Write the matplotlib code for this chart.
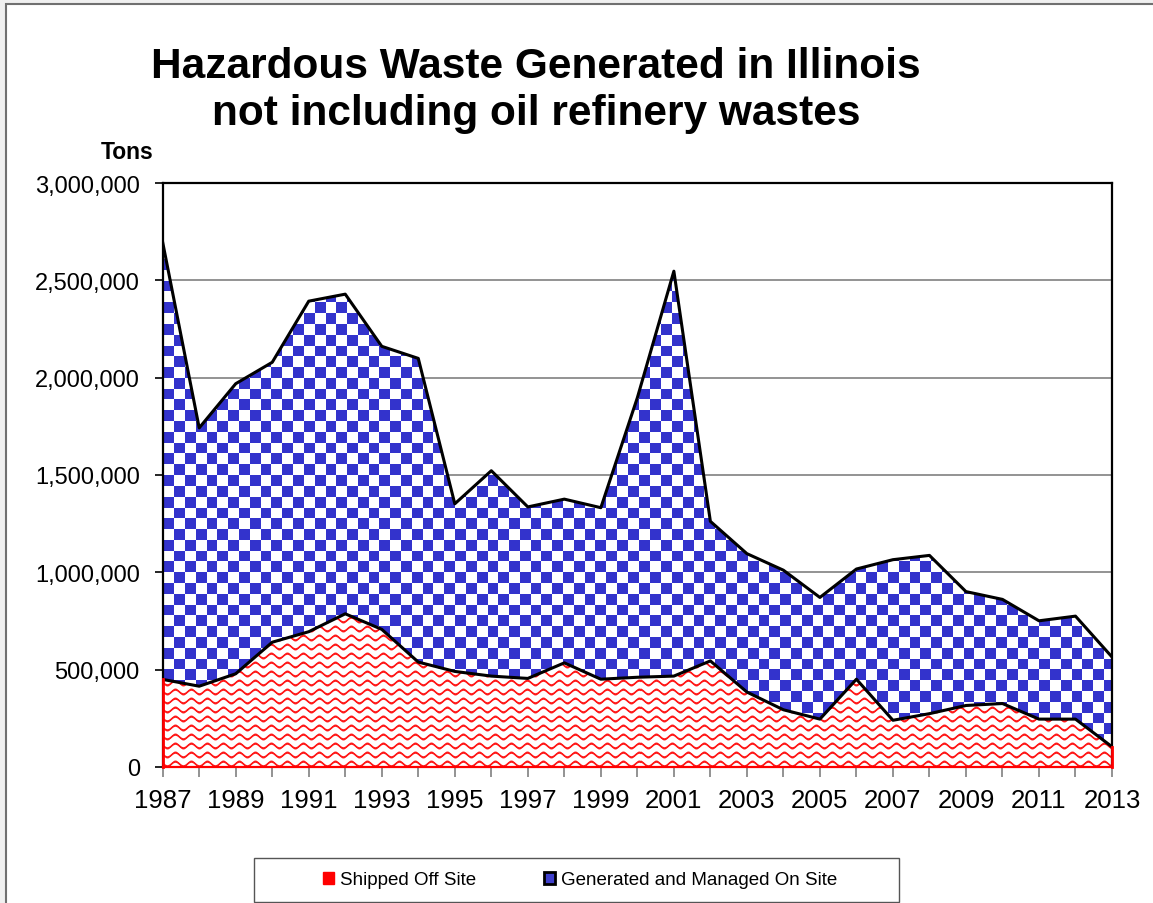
import numpy as np
import matplotlib
matplotlib.use('Agg')
import matplotlib.pyplot as plt
from matplotlib.patches import Rectangle, Patch
from matplotlib.ticker import FuncFormatter

# ---------------- data ----------------
years = list(range(1987, 2014))
shipped_off_site = [450000, 415000, 479000, 641000, 695000, 787000, 707000, 539000,
                    491000, 467000, 455000, 535000, 451000, 461000, 467000, 545000,
                    385000, 294000, 246000, 451000, 240000, 274000, 316000, 326000,
                    246000, 246000, 104000]
managed_on_site = [2245000, 1327000, 1490000, 1438000, 1698000, 1642000, 1454000, 1560000,
                   861000, 1055000, 881000, 841000, 881000, 1436000, 2080000, 717000,
                   711000, 717000, 625000, 566000, 825000, 813000, 585000, 535000,
                   505000, 529000, 461000]
series_labels = ['Shipped Off Site', 'Generated and Managed On Site']
title_lines = ['Hazardous Waste Generated in Illinois', 'not including oil refinery wastes']
y_label = 'Tons'
y_ticks = [0, 500000, 1000000, 1500000, 2000000, 2500000, 3000000]

plt.rcParams['font.family'] = ['Liberation Sans', 'DejaVu Sans']

FW, FH = 1153, 904
fig = plt.figure(figsize=(FW / 100, FH / 100), dpi=100, facecolor='#f0f0f0')

# white page with thin border (cropped at right/bottom)
fig.add_artist(Rectangle((6 / FW, -0.02), 1.05, (1 - 5 / FH) + 0.02, transform=fig.transFigure,
                         facecolor='white', edgecolor='#707070', lw=1.5, zorder=-10))

ax_rect = [162.7 / FW, (FH - 768) / FH, (1112 - 162.7) / FW, (768 - 184) / FH]
ax = fig.add_axes(ax_rect)
ax.set_facecolor('white')

x = np.array(years, dtype=float)
s = np.array(shipped_off_site, dtype=float)
t = s + np.array(managed_on_site, dtype=float)

xmin, xmax = years[0], years[-1]
ymin, ymax = y_ticks[0], y_ticks[-1]

# ---------------- textures (pixel-space patterns) ----------------
W = int(round(ax_rect[2] * FW))
H = int(round(ax_rect[3] * FH))
yy, xx = np.mgrid[0:H, 0:W].astype(float)

sq = 10.8
chk = ((np.floor(xx / sq) + np.floor(yy / sq)) % 2).astype(bool)
checker = np.ones((H, W, 3))
checker[chk] = np.array([51, 51, 204]) / 255.0

P, R, A = 16.0, 9.0, 2.3
v = (yy - A * np.sin(2 * np.pi * xx / P)) % R
d = np.abs(v - R / 2)
inten = np.clip((1.7 - d) / 1.1, 0, 1)[..., None]
red = np.array([255, 25, 25]) / 255.0
wave = (1 - inten) * np.ones(3) + inten * red

fill_red = ax.fill_between(x, 0, s, facecolor='none', edgecolor='none')
fill_blue = ax.fill_between(x, s, t, facecolor='none', edgecolor='none')

im_r = ax.imshow(wave, extent=(xmin, xmax, ymin, ymax), aspect='auto',
                 interpolation='nearest', zorder=1)
im_r.set_clip_path(fill_red.get_paths()[0], ax.transData)
im_b = ax.imshow(checker, extent=(xmin, xmax, ymin, ymax), aspect='auto',
                 interpolation='nearest', zorder=1)
im_b.set_clip_path(fill_blue.get_paths()[0], ax.transData)

ax.set_xlim(xmin, xmax)
ax.set_ylim(ymin, ymax)

# boundary lines
ax.plot(x, s, color='black', lw=2.2, zorder=4)
ax.plot(x, t, color='black', lw=2.2, zorder=4)
ax.plot([xmin, xmin], [0, s[0]], color='red', lw=2, zorder=6, clip_on=False)
ax.plot([xmax, xmax], [0, s[-1]], color='red', lw=2, zorder=6, clip_on=False)

# grid / spines
ax.yaxis.grid(True, color='#808080', lw=1.2)
ax.set_axisbelow(True)
for sp in ax.spines.values():
    sp.set_linewidth(1.6)
    sp.set_color('black')
ax.spines['bottom'].set_color('red')

# ticks
ax.set_xticks(years)
ax.set_xticklabels([str(y) if (y - years[0]) % 2 == 0 else '' for y in years])
ax.set_yticks(y_ticks)
ax.yaxis.set_major_formatter(FuncFormatter(lambda val, pos: f'{val:,.0f}'))
ax.tick_params(axis='x', direction='out', length=7, width=1.2, color='#808080',
               pad=8, labelsize=18.5)
ax.tick_params(axis='y', direction='out', length=6, width=1.2, color='black',
               pad=10.5, labelsize=17)

# texts
fig.text(536 / FW, 1 - 78 / FH, title_lines[0], ha='center', va='baseline',
         fontsize=30.5, fontweight='bold')
fig.text(536 / FW, 1 - 125 / FH, title_lines[1], ha='center', va='baseline',
         fontsize=30.5, fontweight='bold')
fig.text(127 / FW, 1 - 159 / FH, y_label, ha='center', va='baseline',
         fontsize=16.5, fontweight='bold')

# legend box + entries
fig.add_artist(Rectangle((254 / FW, 1 - 903 / FH), 645 / FW, 44 / FH, transform=fig.transFigure,
                         facecolor='white', edgecolor='#555555', lw=1.0, zorder=1))
handles = [Patch(facecolor='red', edgecolor='red', lw=1.0),
           Patch(facecolor='#4040cc', edgecolor='black', lw=2.0)]
leg = fig.legend(handles, series_labels, loc='center',
                 bbox_to_anchor=(580 / FW, 1 - 881 / FH), ncol=2, frameon=False,
                 fontsize=13.5, handlelength=0.62, handleheight=0.6,
                 handletextpad=0.3, columnspacing=3.6, borderaxespad=0, borderpad=0)
leg.set_zorder(2)

fig.savefig('out.png', dpi=100, facecolor=fig.get_facecolor())
